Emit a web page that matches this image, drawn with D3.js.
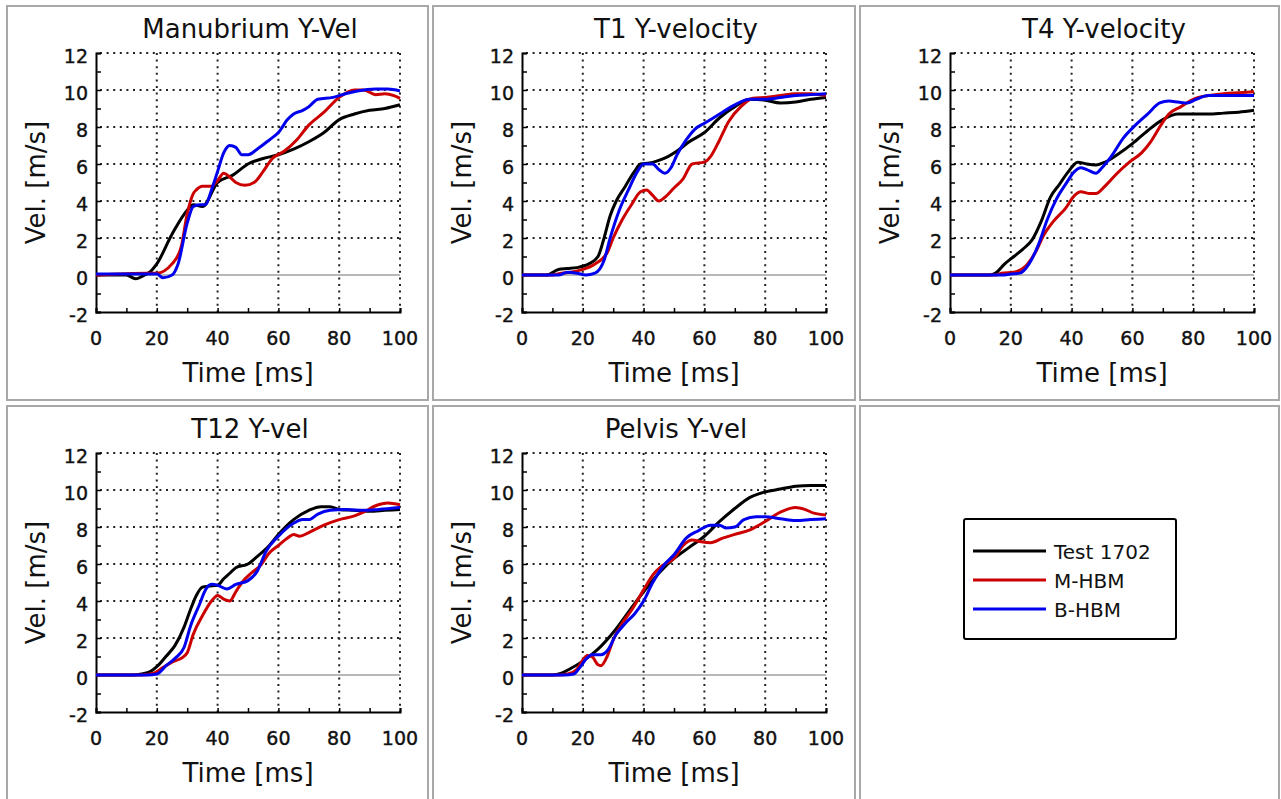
<!DOCTYPE html>
<html>
<head>
<meta charset="utf-8">
<script src="https://cdn.jsdelivr.net/npm/d3@7"></script>
<style>
  body { margin: 0; background: #fff; }
  svg { display: block; font-family: 'DejaVu Sans', Verdana, sans-serif; }
</style>
</head>
<body>
<svg id="chart" width="1281" height="799"></svg>
<script>
// series names + colours
const seriesNames = ['Test 1702', 'M-HBM', 'B-HBM'];
const seriesColors = ['#000000', '#cc0000', '#0000ee'];

const xTicks = [0, 20, 40, 60, 80, 100];
const yTicks = [-2, 0, 2, 4, 6, 8, 10, 12];

// [time ms, velocity m/s]
const manubriumTest = [[0,0],[10,0],[13,-0.2],[16,0],[18,0.2],[20,0.6],[25,2.2],[30,3.5],[32,3.8],[35,3.7],[40,5.0],[45,5.4],[50,6.0],[55,6.3],[60,6.5],[65,6.8],[70,7.2],[75,7.7],[80,8.4],[85,8.7],[90,8.9],[95,9.0],[100,9.2]];
const manubriumM = [[0,0],[17,0.1],[20,0.1],[25,0.6],[28,1.5],[30,3.3],[32,4.4],[33,4.6],[35,4.8],[38,4.8],[40,5.1],[42,5.5],[44,5.3],[46,5.0],[49,4.85],[52,5.0],[55,5.6],[58,6.3],[62,6.7],[66,7.3],[70,8.1],[75,8.8],[80,9.6],[85,10.0],[88,10.0],[92,9.75],[95,9.8],[98,9.7],[100,9.55]];
const manubriumB = [[0,0.05],[20,0.05],[22,-0.15],[25,0],[27,0.6],[30,2.8],[32,3.7],[34,3.8],[36,3.8],[38,4.6],[40,5.6],[42,6.6],[44,7.0],[46,6.9],[48,6.5],[50,6.5],[53,6.8],[57,7.3],[60,7.7],[63,8.4],[65,8.7],[68,8.9],[70,9.1],[73,9.5],[78,9.6],[82,9.8],[86,9.95],[92,10.05],[96,10.05],[100,9.95]];

const t1Test = [[0,0],[8,0],[12,0.3],[15,0.35],[18,0.4],[22,0.6],[25,1.0],[27,2.0],[29,3.2],[31,4.0],[34,4.8],[37,5.6],[39,6.0],[42,6.05],[45,6.2],[48,6.4],[51,6.7],[55,7.2],[60,7.7],[65,8.5],[70,9.1],[75,9.5],[80,9.45],[85,9.3],[90,9.35],[95,9.5],[100,9.6]];
const t1M = [[0,0],[10,0],[13,0.1],[16,0.15],[20,0.3],[24,0.6],[28,1.2],[30,2.0],[33,3.0],[36,3.8],[39,4.5],[41,4.6],[43,4.3],[45,4.0],[47,4.2],[50,4.7],[53,5.2],[56,6.0],[60,6.1],[62,6.4],[65,7.3],[68,8.3],[72,9.1],[76,9.55],[80,9.6],[85,9.7],[90,9.8],[95,9.8],[100,9.7]];
const t1B = [[0,0],[12,0],[15,0.15],[18,0.1],[21,0],[24,0.1],[27,0.8],[29,2.0],[32,3.5],[35,4.6],[38,5.6],[40,6.0],[43,6.0],[45,5.7],[47,5.5],[49,5.8],[51,6.5],[54,7.3],[57,7.9],[60,8.2],[65,8.7],[70,9.2],[75,9.5],[80,9.5],[85,9.6],[90,9.7],[95,9.75],[100,9.8]];

const t4Test = [[0,0],[13,0],[15,0.1],[18,0.6],[21,1.0],[24,1.4],[27,1.9],[30,2.9],[33,4.2],[36,4.9],[39,5.6],[42,6.1],[45,6.0],[48,5.95],[51,6.1],[55,6.5],[60,7.1],[65,7.8],[70,8.4],[75,8.7],[80,8.7],[85,8.7],[90,8.75],[95,8.8],[100,8.9]];
const t4M = [[0,0],[15,0],[17,0.1],[21,0.15],[25,0.5],[28,1.2],[31,2.2],[34,2.9],[38,3.6],[41,4.3],[43,4.5],[46,4.4],[48,4.4],[51,4.8],[55,5.5],[59,6.1],[63,6.6],[66,7.2],[69,8.0],[72,8.7],[76,9.1],[80,9.5],[85,9.7],[90,9.8],[95,9.85],[100,9.9]];
const t4B = [[0,0],[17,0],[20,0.05],[23,0.1],[26,0.6],[29,1.6],[32,3.0],[35,4.1],[38,4.9],[41,5.6],[43,5.8],[45,5.7],[48,5.5],[50,5.8],[53,6.4],[57,7.4],[61,8.1],[65,8.7],[69,9.3],[72,9.4],[75,9.35],[78,9.3],[81,9.5],[85,9.7],[90,9.7],[95,9.7],[100,9.7]];

const t12Test = [[0,0],[12,0],[15,0.05],[18,0.2],[20,0.45],[23,1.0],[26,1.6],[29,2.6],[31,3.5],[33,4.3],[35,4.75],[37,4.8],[40,4.85],[42,5.2],[44,5.5],[46,5.8],[50,6.0],[53,6.4],[57,7.0],[60,7.6],[65,8.4],[70,8.9],[74,9.1],[77,9.1],[80,8.95],[85,8.9],[90,8.85],[95,8.9],[100,8.95]];
const t12M = [[0,0],[15,0],[19,0.1],[22,0.4],[25,0.7],[28,0.9],[30,1.2],[32,2.2],[35,3.2],[38,4.0],[40,4.3],[42,4.1],[44,4.0],[46,4.5],[48,5.0],[51,5.5],[54,5.9],[57,6.6],[60,7.0],[63,7.4],[65,7.6],[67,7.5],[70,7.7],[75,8.1],[80,8.4],[85,8.6],[88,8.8],[92,9.15],[96,9.3],[100,9.2]];
const t12B = [[0,0],[17,0],[20,0.05],[23,0.5],[26,0.9],[29,1.5],[31,2.6],[34,3.8],[36,4.6],[38,4.9],[40,4.85],[43,4.65],[46,4.9],[50,5.1],[53,5.6],[56,6.7],[60,7.5],[65,8.2],[68,8.4],[70,8.4],[73,8.7],[77,8.9],[82,8.95],[88,8.9],[93,8.95],[100,9.05]];

const pelvisTest = [[0,0],[10,0],[13,0.1],[16,0.35],[20,0.75],[25,1.4],[30,2.3],[35,3.4],[40,4.5],[45,5.5],[50,6.3],[55,6.9],[60,7.5],[65,8.3],[70,9.0],[75,9.6],[80,9.9],[85,10.05],[90,10.2],[95,10.25],[100,10.25]];
const pelvisM = [[0,0],[12,0],[15,0.05],[18,0.3],[20,0.8],[21.5,1.05],[23,1.0],[25,0.55],[26,0.5],[28,1.0],[30,1.9],[33,2.8],[36,3.5],[40,4.6],[43,5.4],[46,5.9],[50,6.3],[53,7.0],[56,7.3],[59,7.2],[62,7.15],[66,7.4],[70,7.6],[75,7.85],[80,8.3],[85,8.8],[90,9.05],[93,8.95],[96,8.75],[100,8.65]];
const pelvisB = [[0,0],[14,0],[17,0.05],[19,0.4],[21,0.85],[23,1.1],[26,1.1],[28,1.3],[31,2.2],[34,2.8],[37,3.3],[40,4.0],[43,5.0],[47,6.0],[50,6.5],[54,7.4],[58,7.8],[62,8.1],[65,8.1],[67,7.95],[70,8.0],[73,8.4],[77,8.55],[80,8.55],[85,8.45],[90,8.35],[95,8.4],[100,8.45]];

const panels = [
  { title: 'Manubrium Y-Vel', series: [manubriumTest, manubriumM, manubriumB], col: 0, row: 0 },
  { title: 'T1 Y-velocity', series: [t1Test, t1M, t1B], col: 1, row: 0 },
  { title: 'T4 Y-velocity', series: [t4Test, t4M, t4B], col: 2, row: 0 },
  { title: 'T12 Y-vel', series: [t12Test, t12M, t12B], col: 0, row: 1 },
  { title: 'Pelvis Y-vel', series: [pelvisTest, pelvisM, pelvisB], col: 1, row: 1 },
];

const svg = d3.select('#chart');

// frame boxes
const boxLeft = [7, 433, 860], boxRight = [428, 855, 1279];
const boxTop = [6, 406], boxBottom = [400, 802];
for (let r = 0; r < 2; r++) {
  for (let c = 0; c < 3; c++) {
    svg.append('rect')
      .attr('x', boxLeft[c]).attr('y', boxTop[r])
      .attr('width', boxRight[c] - boxLeft[c]).attr('height', boxBottom[r] - boxTop[r])
      .attr('fill', 'none').attr('stroke', '#a8a8a8').attr('stroke-width', 2);
  }
}

const plotLeft = [96, 522, 950];
const plotTop = [53, 453];
const plotW = 304, plotH = 259;

panels.forEach(p => {
  const g = svg.append('g')
    .attr('transform', `translate(${plotLeft[p.col]},${plotTop[p.row]})`);

  const x = d3.scaleLinear().domain([0, 100]).range([0, plotW]);
  const y = d3.scaleLinear().domain([-2, 12]).range([plotH, 0]);

  // dotted grid
  g.append('g').selectAll('line')
    .data(xTicks.filter(d => d > 0))
    .join('line')
    .attr('x1', d => x(d)).attr('x2', d => x(d))
    .attr('y1', 0).attr('y2', plotH)
    .attr('stroke', '#222').attr('stroke-width', 2)
    .attr('stroke-dasharray', '2,4.6');
  g.append('g').selectAll('line')
    .data(yTicks.filter(d => d > 0))
    .join('line')
    .attr('x1', 4).attr('x2', plotW)
    .attr('y1', d => y(d)).attr('y2', d => y(d))
    .attr('stroke', '#222').attr('stroke-width', 2)
    .attr('stroke-dasharray', '2,4.6');

  // zero line
  g.append('line')
    .attr('x1', 0).attr('x2', plotW)
    .attr('y1', y(0)).attr('y2', y(0))
    .attr('stroke', '#a0a0a0').attr('stroke-width', 1.5);

  // axes
  const yAxis = g.append('g')
    .call(d3.axisLeft(y).tickValues(d3.range(-2, 13, 1)).tickSize(-5).tickFormat(''));
  const xAxis = g.append('g').attr('transform', `translate(0,${plotH})`)
    .call(d3.axisBottom(x).tickValues(d3.range(0, 101, 10)).tickSize(-4).tickFormat(''));
  [yAxis, xAxis].forEach(a => {
    a.select('.domain').attr('stroke', '#000').attr('stroke-width', 2);
    a.selectAll('.tick line').attr('stroke', '#000').attr('stroke-width', 1.5);
  });

  // tick labels
  g.append('g').selectAll('text')
    .data(yTicks)
    .join('text')
    .attr('x', -8).attr('y', d => y(d) + 10)
    .attr('text-anchor', 'end')
    .attr('font-size', 19).attr('fill', '#111')
    .attr('stroke', '#111').attr('stroke-width', 0.4)
    .text(d => d);
  g.append('g').selectAll('text')
    .data(xTicks)
    .join('text')
    .attr('x', d => x(d)).attr('y', plotH + 33)
    .attr('text-anchor', 'middle')
    .attr('font-size', 19).attr('fill', '#111')
    .attr('stroke', '#111').attr('stroke-width', 0.4)
    .text(d => d);

  // titles
  g.append('text')
    .attr('x', plotW / 2 + 2).attr('y', -15)
    .attr('text-anchor', 'middle').attr('font-size', 26).attr('fill', '#111')
    .text(p.title);
  g.append('text')
    .attr('x', plotW / 2).attr('y', plotH + 70)
    .attr('text-anchor', 'middle').attr('font-size', 26).attr('fill', '#111')
    .text('Time [ms]');
  g.append('text')
    .attr('transform', `translate(-51,${plotH / 2}) rotate(-90)`)
    .attr('text-anchor', 'middle').attr('font-size', 26).attr('fill', '#111')
    .text('Vel. [m/s]');

  // curves
  const line = d3.line()
    .x(d => x(d[0])).y(d => y(d[1]))
    .curve(d3.curveMonotoneX);
  p.series.forEach((s, i) => {
    g.append('path')
      .datum(s)
      .attr('d', line)
      .attr('fill', 'none')
      .attr('stroke', seriesColors[i])
      .attr('stroke-width', 3)
      .attr('stroke-linejoin', 'round');
  });
});

// legend
const legend = svg.append('g').attr('transform', 'translate(964,519)');
legend.append('rect')
  .attr('width', 212).attr('height', 120).attr('rx', 2)
  .attr('fill', '#fff').attr('stroke', '#000').attr('stroke-width', 2);
seriesNames.forEach((name, i) => {
  const ly = 32 + i * 29;
  legend.append('line')
    .attr('x1', 9).attr('x2', 82).attr('y1', ly).attr('y2', ly)
    .attr('stroke', seriesColors[i]).attr('stroke-width', 3);
  legend.append('text')
    .attr('x', 90).attr('y', ly + 8)
    .attr('font-size', 20).attr('fill', '#111')
    .text(name);
});
</script>
</body>
</html>
